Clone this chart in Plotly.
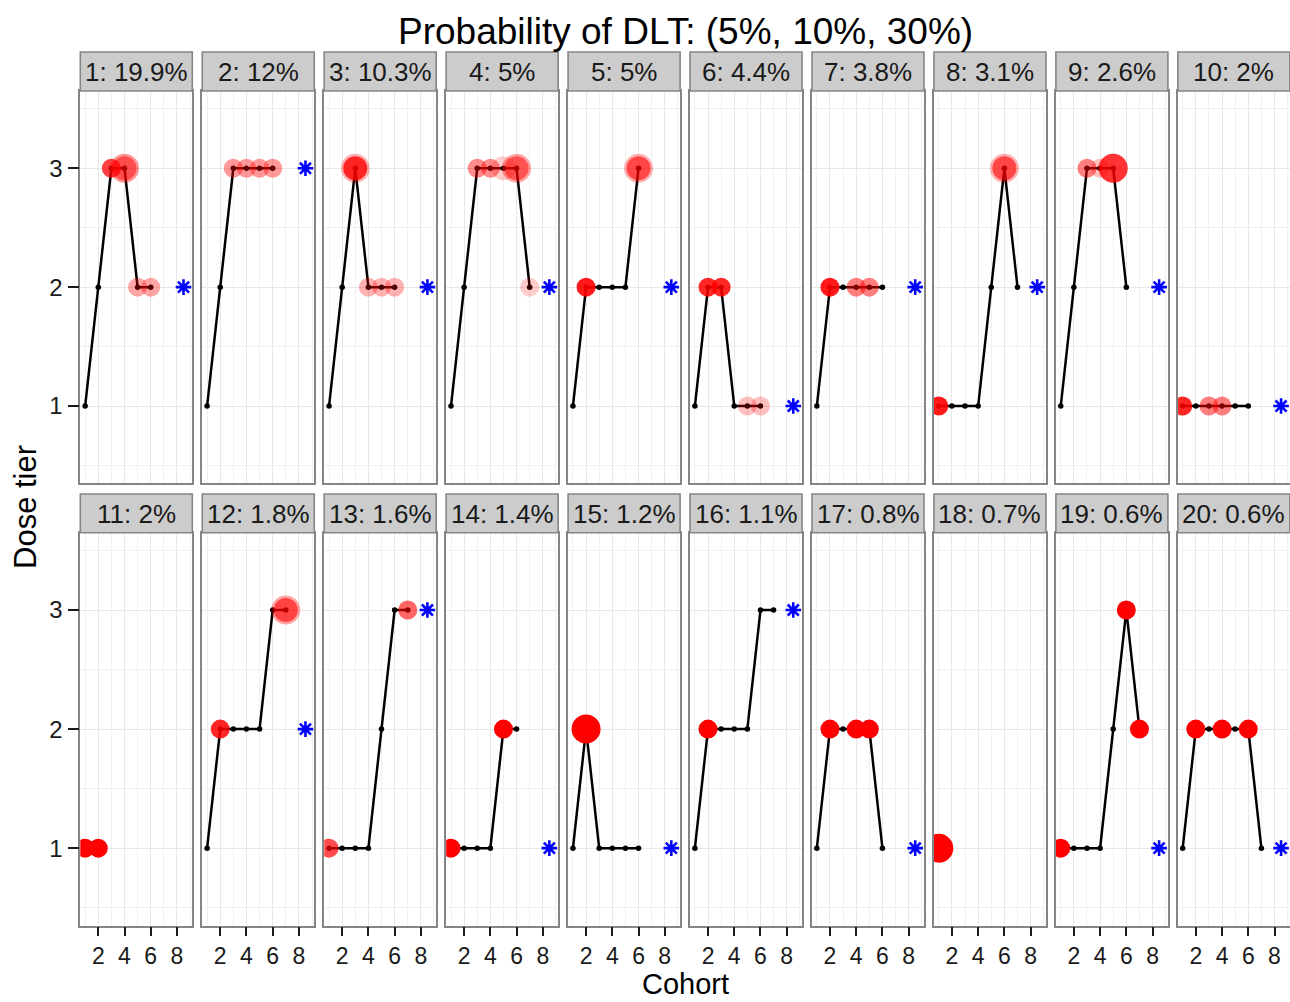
import plotly.graph_objects as go

W, H = 1290, 1002

# ---------------- data ----------------
panel_labels = ["1: 19.9%", "2: 12%", "3: 10.3%", "4: 5%", "5: 5%", "6: 4.4%",
                "7: 3.8%", "8: 3.1%", "9: 2.6%", "10: 2%",
                "11: 2%", "12: 1.8%", "13: 1.6%", "14: 1.4%", "15: 1.2%",
                "16: 1.1%", "17: 0.8%", "18: 0.7%", "19: 0.6%", "20: 0.6%"]

# dose tier assigned to each successive cohort
dose_paths = [
    [1, 2, 3, 3, 2, 2],
    [1, 2, 3, 3, 3, 3],
    [1, 2, 3, 2, 2, 2],
    [1, 2, 3, 3, 3, 3, 2],
    [1, 2, 2, 2, 2, 3],
    [1, 2, 2, 1, 1, 1],
    [1, 2, 2, 2, 2, 2],
    [1, 1, 1, 1, 2, 3, 2],
    [1, 2, 3, 3, 3, 2],
    [1, 1, 1, 1, 1, 1],
    [1, 1],
    [1, 2, 2, 2, 2, 3, 3],
    [1, 1, 1, 1, 2, 3, 3],
    [1, 1, 1, 1, 2, 2],
    [1, 2, 1, 1, 1, 1],
    [1, 2, 2, 2, 2, 3, 3],
    [1, 2, 2, 2, 2, 1],
    [1],
    [1, 1, 1, 1, 2, 3, 2],
    [1, 2, 2, 2, 2, 2, 1],
]

# recommended dose tier (None = no recommendation)
recommended = [2, 3, 2, 2, 2, 1, 2, 2, 2, 1,
               None, 2, 3, 1, 1, 3, 1, None, 1, 1]
rec_cohort = 8.5

# DLT events: cohort, number of DLTs, frequency (alpha)
dlt_cohort = [
    [3, 4, 4, 5, 6],
    [3, 4, 5, 6],
    [3, 3, 4, 5, 6],
    [3, 4, 5, 6, 6, 7],
    [2, 6, 6],
    [2, 3, 5, 6],
    [2, 4, 5],
    [1, 6, 6],
    [3, 4, 5],
    [1, 3, 4],
    [1, 2],
    [2, 7, 7],
    [1, 7],
    [1, 5],
    [2],
    [2],
    [2, 4, 5],
    [1],
    [1, 6, 7],
    [2, 4, 6],
]
dlt_count = [
    [1, 3, 2, 1, 1],
    [1, 1, 1, 1],
    [3, 2, 1, 1, 1],
    [1, 1, 2, 3, 2, 1],
    [1, 3, 2],
    [1, 1, 1, 1],
    [1, 1, 1],
    [1, 3, 2],
    [1, 1, 3],
    [1, 1, 1],
    [1, 1],
    [1, 3, 2],
    [1, 1],
    [1, 1],
    [3],
    [1],
    [1, 1, 1],
    [3],
    [1, 1, 1],
    [1, 1, 1],
]
dlt_freq = [
    [0.75, 0.4, 0.5, 0.35, 0.35],
    [0.4, 0.4, 0.4, 0.4],
    [0.3, 0.8, 0.3, 0.3, 0.3],
    [0.45, 0.45, 0.2, 0.35, 0.5, 0.2],
    [0.9, 0.3, 0.6],
    [0.85, 0.85, 0.25, 0.25],
    [0.9, 0.5, 0.5],
    [0.9, 0.3, 0.6],
    [0.5, 0.25, 0.8],
    [0.85, 0.5, 0.5],
    [1, 1],
    [0.85, 0.35, 0.6],
    [0.7, 0.6],
    [1, 1],
    [1],
    [1],
    [1, 1, 1],
    [1],
    [1, 1, 1],
    [1, 1, 1],
]

x_ticks = [2, 4, 6, 8]
y_ticks = [1, 2, 3]

# ---------------- layout geometry ----------------
FONT = "Liberation Sans, Arial, Helvetica, sans-serif"
size_px = {1: 19, 2: 24, 3: 29}
col_x0, col_pitch, col_w = 80.3, 121.95, 112.0
rows_plot = [(91.0, 483.3), (532.7, 925.5)]
rows_strip = [(52.0, 91.0), (494.0, 532.7)]

def px(x):
    return x / W

def py(y):
    return 1 - y / H

fig = go.Figure()
layout = {}
shapes = []
annotations = []

for i in range(20):
    r, c = divmod(i, 10)
    n = i + 1
    xa = "x" if n == 1 else f"x{n}"
    ya = "y" if n == 1 else f"y{n}"
    x0 = col_x0 + c * col_pitch
    x1 = x0 + col_w
    yt, yb = rows_plot[r]

    layout["xaxis" if n == 1 else f"xaxis{n}"] = dict(
        domain=[px(x0), px(x1)], anchor=ya, range=[0.63, 9.17],
        tickvals=x_ticks, showticklabels=(r == 1),
        ticks="outside" if r == 1 else "", ticklen=9, tickwidth=2, tickcolor="#1a1a1a",
        tickfont=dict(size=23, color="#1a1a1a", family=FONT),
        showgrid=True, gridcolor="#e8e8e8", gridwidth=1.3,
        minor=dict(tickvals=[1, 3, 5, 7, 9], showgrid=True, gridcolor="#f1f1f1", gridwidth=1.3, ticks=""),
        zeroline=False, showline=True, mirror=True, linecolor="#858585", linewidth=1.6,
        fixedrange=True,
    )
    layout["yaxis" if n == 1 else f"yaxis{n}"] = dict(
        domain=[py(yb), py(yt)], anchor=xa, range=[0.35, 3.65],
        tickvals=y_ticks, showticklabels=(c == 0),
        ticks="outside" if c == 0 else "", ticklen=11, tickwidth=2, tickcolor="#1a1a1a",
        tickfont=dict(size=24, color="#1a1a1a", family=FONT),
        showgrid=True, gridcolor="#e8e8e8", gridwidth=1.3,
        minor=dict(tickvals=[0.5, 1.5, 2.5, 3.5], showgrid=True, gridcolor="#f1f1f1", gridwidth=1.3, ticks=""),
        zeroline=False, showline=True, mirror=True, linecolor="#858585", linewidth=1.6,
        fixedrange=True,
    )

    # strip
    st, sb = rows_strip[r]
    shapes.append(dict(type="rect", xref="paper", yref="paper",
                       x0=px(x0), x1=px(x1), y0=py(sb), y1=py(st),
                       fillcolor="#cccccc", line=dict(color="#858585", width=1.6), layer="above"))
    annotations.append(dict(text=panel_labels[i], xref="paper", yref="paper",
                            x=px((x0 + x1) / 2), y=py((st + sb) / 2 + 1),
                            xanchor="center", yanchor="middle", showarrow=False,
                            font=dict(size=26, color="#1a1a1a", family=FONT)))

    path = dose_paths[i]
    cohorts = list(range(1, len(path) + 1))
    fig.add_trace(go.Scatter(
        x=cohorts, y=path, mode="lines+markers", xaxis=xa, yaxis=ya,
        line=dict(color="black", width=2.5),
        marker=dict(color="black", size=5.5), showlegend=False, hoverinfo="skip"))

    dx = dlt_cohort[i]
    dy = [path[k - 1] for k in dx]
    fig.add_trace(go.Scatter(
        x=dx, y=dy, mode="markers", xaxis=xa, yaxis=ya,
        marker=dict(color="#ff0000", size=[size_px[k] for k in dlt_count[i]],
                    opacity=dlt_freq[i], line=dict(width=0)),
        showlegend=False, hoverinfo="skip"))

    if recommended[i] is not None:
        fig.add_trace(go.Scatter(
            x=[rec_cohort], y=[recommended[i]], mode="markers", xaxis=xa, yaxis=ya,
            marker=dict(symbol="asterisk-open", size=13, color="#0000ff",
                        line=dict(color="#0000ff", width=2.6)),
            showlegend=False, hoverinfo="skip", cliponaxis=False))

annotations.append(dict(text="Probability of DLT: (5%, 10%, 30%)", xref="paper", yref="paper",
                        x=px(685), y=py(31), xanchor="center", yanchor="middle",
                        showarrow=False, font=dict(size=37, color="black", family=FONT)))
annotations.append(dict(text="Cohort", xref="paper", yref="paper",
                        x=px(685), y=0, xanchor="center", yanchor="bottom",
                        showarrow=False, font=dict(size=29, color="black", family=FONT)))
annotations.append(dict(text="Dose tier", xref="paper", yref="paper",
                        x=px(25), y=py(507), xanchor="center", yanchor="middle", textangle=-90,
                        showarrow=False, font=dict(size=31, color="black", family=FONT)))

fig.update_layout(
    width=W, height=H, autosize=False,
    margin=dict(l=0, r=0, t=0, b=0),
    paper_bgcolor="white", plot_bgcolor="white",
    shapes=shapes, annotations=annotations,
    font=dict(family=FONT),
    **layout,
)

fig.write_html("out.html", config={"displayModeBar": False})
